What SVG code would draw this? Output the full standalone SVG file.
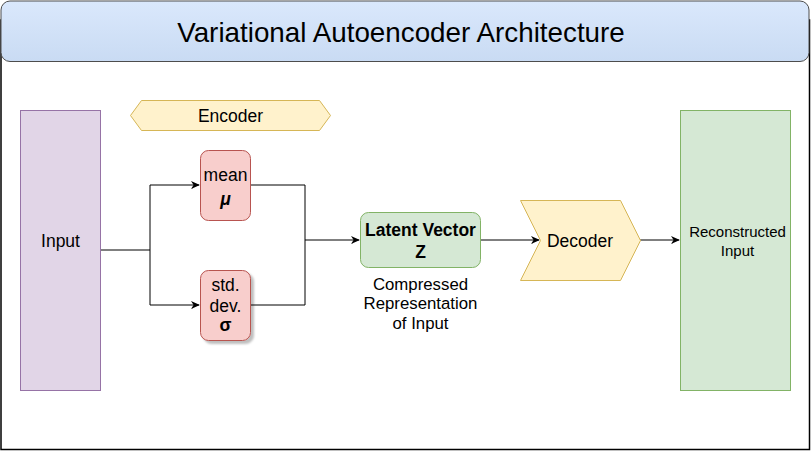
<svg xmlns="http://www.w3.org/2000/svg" width="811" height="451" viewBox="0 0 811 451">
<defs>
<linearGradient id="tg" x1="0" y1="0" x2="0" y2="1">
<stop offset="0" stop-color="#dae8fc"/>
<stop offset="1" stop-color="#c9dbf3"/>
</linearGradient>
<marker id="arr" viewBox="0 0 10 10" refX="9" refY="5" markerWidth="9" markerHeight="9" markerUnits="userSpaceOnUse" orient="auto">
<path d="M0,0.5 L10,5 L0,9.5 L3,5 Z" fill="#000"/>
</marker>
<filter id="sh" x="-20%" y="-20%" width="150%" height="150%">
<feDropShadow dx="3" dy="3" stdDeviation="1" flood-color="#000" flood-opacity="0.25"/>
</filter>
</defs>
<style>
text{font-family:"Liberation Sans",Arial,sans-serif;fill:#000;text-anchor:middle}
.t{font-size:17.5px}
.b{font-weight:bold}
.red{fill:#f8cecc;stroke:#b85450;stroke-width:1}
.yel{fill:#fff2cc;stroke:#d6b656;stroke-width:1}
.grn{fill:#d5e8d4;stroke:#82b366;stroke-width:1}
.pur{fill:#e1d5e7;stroke:#9673a6;stroke-width:1}
.c{fill:none;stroke:#000;stroke-width:1}
</style>
<rect x="0" y="0" width="811" height="451" fill="#fff"/>
<g id="frame">
<rect x="1" y="20" width="808.5" height="429.5" fill="none" stroke="#000" stroke-width="1.5"/>
</g>
<g id="title">
<rect x="1" y="1" width="808" height="60.5" rx="9" fill="url(#tg)" stroke="#4d4d4d" stroke-width="1"/>
<text x="401" y="41.5" font-size="27.8">Variational Autoencoder Architecture</text>
</g>
<g id="connectors">
<path class="c" d="M100,250 H150 V185 H199" marker-end="url(#arr)"/>
<path class="c" d="M150,250 V305 H199" marker-end="url(#arr)"/>
<path class="c" d="M250,185 H305 V240"/>
<path class="c" d="M250,305 H305 V240 H359" marker-end="url(#arr)"/>
<path class="c" d="M480,240 H539" marker-end="url(#arr)"/>
<path class="c" d="M640,240 H679" marker-end="url(#arr)"/>
</g>
<g id="input">
<rect class="pur" x="20.5" y="110.5" width="80" height="280"/>
<text class="t" x="60.5" y="246.5">Input</text>
</g>
<g id="encoder">
<path class="yel" d="M130.5,115.5 L141.5,100.5 H319.5 L330.5,115.5 L319.5,130.5 H141.5 Z"/>
<text class="t" x="230.5" y="121.5">Encoder</text>
</g>
<g id="mean">
<rect class="red" x="200.5" y="150.5" width="50" height="70" rx="8"/>
<text class="t" x="225.5" y="181">mean</text>
<text class="t b" x="225.5" y="205" font-style="italic">μ</text>
</g>
<g id="stddev">
<rect class="red" x="200.5" y="270.5" width="50" height="70" rx="8" filter="url(#sh)"/>
<text class="t" x="225.5" y="291">std.</text>
<text class="t" x="225.5" y="311.5">dev.</text>
<text class="t b" x="225.5" y="331" font-size="16">σ</text>
</g>
<g id="latent">
<rect class="grn" x="360.5" y="212.5" width="120" height="55" rx="8"/>
<text class="t b" x="420.5" y="235.5" font-size="16.5">Latent Vector</text>
<text class="t b" x="420.5" y="257.5" font-size="16.5">Z</text>
</g>
<g id="compressed">
<text x="420.5" y="290" font-size="16.8">Compressed</text>
<text x="420.5" y="309" font-size="16.8">Representation</text>
<text x="420.5" y="329" font-size="16.8">of Input</text>
</g>
<g id="decoder">
<path class="yel" d="M520.5,200.5 H620.5 L640.5,240.5 L620.5,280.5 H520.5 L540.5,240.5 Z"/>
<text x="580" y="246.5" font-size="17.5">Decoder</text>
</g>
<g id="reconstructed">
<rect class="grn" x="680.5" y="110.5" width="110" height="280"/>
<text x="737.5" y="236.5" font-size="15">Reconstructed</text>
<text x="737.5" y="255.5" font-size="15">Input</text>
</g>
</svg>
